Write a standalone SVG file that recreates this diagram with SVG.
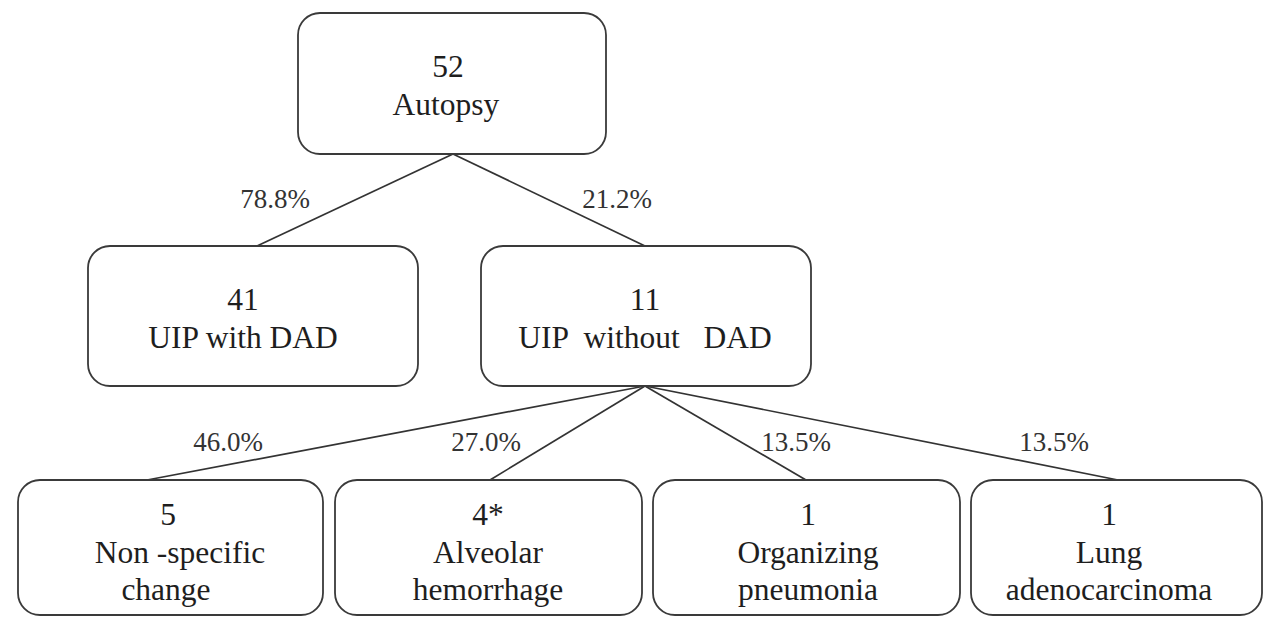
<svg xmlns="http://www.w3.org/2000/svg" width="1268" height="617" viewBox="0 0 1268 617">
<style>
.box{fill:#fff;stroke:#3a3a3a;stroke-width:1.8}
.ln{stroke:#333;stroke-width:1.7;fill:none}
.t{font-family:'Liberation Serif','Times New Roman',serif;font-size:31.5px;fill:#1e1e1e;text-anchor:middle}
.p{font-family:'Liberation Serif','Times New Roman',serif;font-size:27px;fill:#333;text-anchor:middle}
</style>
<rect width="1268" height="617" fill="#fff"/>
<g id="connectors">
<line class="ln" x1="453" y1="154" x2="257" y2="246"/>
<line class="ln" x1="453" y1="154" x2="645" y2="246"/>
<line class="ln" x1="645" y1="386" x2="147" y2="480"/>
<line class="ln" x1="645" y1="386" x2="490" y2="480"/>
<line class="ln" x1="645" y1="386" x2="806" y2="480"/>
<line class="ln" x1="645" y1="386" x2="1118" y2="480"/>
<text class="p" x="275" y="208">78.8%</text>
<text class="p" x="617" y="208">21.2%</text>
<text class="p" x="228" y="451">46.0%</text>
<text class="p" x="486" y="451">27.0%</text>
<text class="p" x="796" y="451">13.5%</text>
<text class="p" x="1054" y="451">13.5%</text>
</g>
<g id="n-autopsy">
<rect class="box" x="298" y="13" width="308" height="141" rx="22"/>
<text class="t" x="448" y="77">52</text>
<text class="t" x="446" y="115">Autopsy</text>
</g>
<g id="n-with">
<rect class="box" x="88" y="246" width="330" height="140" rx="22"/>
<text class="t" x="243" y="310">41</text>
<text class="t" x="243" y="348">UIP with DAD</text>
</g>
<g id="n-without">
<rect class="box" x="481" y="246" width="330" height="140" rx="22"/>
<text class="t" x="645" y="310">11</text>
<text class="t" x="645" y="348" xml:space="preserve">UIP  without   DAD</text>
</g>
<g id="n-nonspecific">
<rect class="box" x="18" y="480" width="305" height="135" rx="22"/>
<text class="t" x="168" y="525">5</text>
<text class="t" x="180" y="563">Non -specific</text>
<text class="t" x="166" y="600">change</text>
</g>
<g id="n-alveolar">
<rect class="box" x="335" y="480" width="307" height="135" rx="22"/>
<text class="t" x="488" y="525">4*</text>
<text class="t" x="488" y="563">Alveolar</text>
<text class="t" x="488" y="600">hemorrhage</text>
</g>
<g id="n-organizing">
<rect class="box" x="653" y="480" width="307" height="135" rx="22"/>
<text class="t" x="808" y="525">1</text>
<text class="t" x="808" y="563">Organizing</text>
<text class="t" x="808" y="600">pneumonia</text>
</g>
<g id="n-lung">
<rect class="box" x="971" y="480" width="291" height="135" rx="22"/>
<text class="t" x="1109" y="525">1</text>
<text class="t" x="1109" y="563">Lung</text>
<text class="t" x="1109" y="600">adenocarcinoma</text>
</g>
</svg>
